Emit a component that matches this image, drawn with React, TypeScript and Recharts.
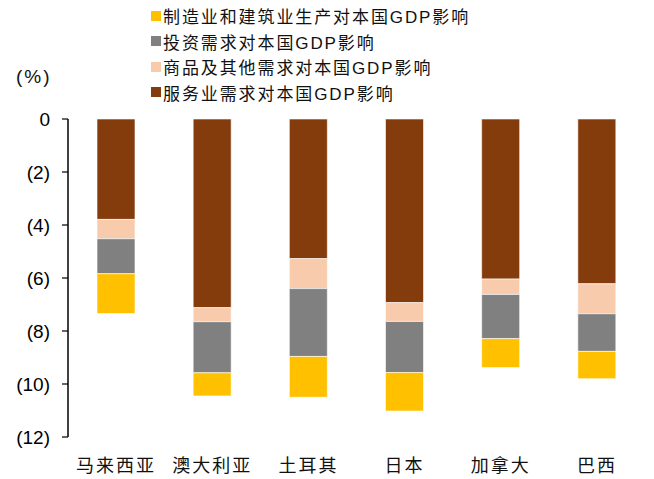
import React from 'react';
import { BarChart, Bar, XAxis, YAxis } from 'recharts';

// Countries on the category axis
const countries = ['马来西亚', '澳大利亚', '土耳其', '日本', '加拿大', '巴西'];

// Contribution to domestic GDP (percentage points, negative = drag)
const serviceDemand = [-3.79, -7.12, -5.27, -6.93, -6.04, -6.22];
const goodsOtherDemand = [-0.73, -0.53, -1.13, -0.71, -0.58, -1.13];
const investmentDemand = [-1.32, -1.93, -2.56, -1.93, -1.67, -1.42];
const manufacturingConstruction = [-1.5, -0.87, -1.54, -1.45, -1.09, -1.03];

const yTicks = [0, -2, -4, -6, -8, -10, -12];
const boundaryTicks = [1, 2, 3, 4, 5, 6];

const seriesNames = {
  manufacturing: '制造业和建筑业生产对本国GDP影响',
  investment: '投资需求对本国GDP影响',
  goods: '商品及其他需求对本国GDP影响',
  service: '服务业需求对本国GDP影响',
};

const colors = {
  manufacturing: '#FFC000',
  investment: '#808080',
  goods: '#F8CBAD',
  service: '#843C0C',
};

const legendOrder: Array<keyof typeof seriesNames> = ['manufacturing', 'investment', 'goods', 'service'];

const data = countries.map((name, i) => ({
  name,
  service: serviceDemand[i],
  goods: goodsOtherDemand[i],
  investment: investmentDemand[i],
  manufacturing: manufacturingConstruction[i],
}));

const W = 646;
const H = 471;
const cjkFont = '"Noto Sans CJK SC", "Noto Sans", sans-serif';
const numFont = '"Liberation Sans", Arial, sans-serif';
const mixedFont = '"Liberation Sans", "Noto Sans CJK SC", sans-serif';

const formatY = (v: number) => (v === 0 ? '0' : `(${Math.abs(v)})`);

export default function App() {
  return (
    <div style={{ position: 'relative', width: W, height: H }}>
      <BarChart
        width={W}
        height={H}
        data={data}
        barSize={38}
        margin={{ top: 111, right: 9, bottom: 12, left: 0 }}
      >
        <XAxis
          dataKey="name"
          axisLine={false}
          tickLine={false}
          tickSize={0}
          tickMargin={22}
          height={30}
          interval={0}
          tick={{ fill: '#111', fontSize: 18, fontFamily: cjkFont, letterSpacing: 2 }}
        />
        <XAxis
          xAxisId="top"
          type="number"
          orientation="top"
          mirror
          domain={[0, 6]}
          ticks={boundaryTicks}
          tickFormatter={() => ''}
          height={0}
          tickSize={6}
          axisLine={{ stroke: '#000', strokeWidth: 1.5 }}
          tickLine={{ stroke: '#000', strokeWidth: 1.2 }}
          allowDataOverflow
        />
        <YAxis
          domain={[-12, 0]}
          ticks={yTicks}
          tickFormatter={formatY}
          width={60}
          tickSize={6}
          tickMargin={12}
          axisLine={{ stroke: '#000', strokeWidth: 1.5 }}
          tickLine={{ stroke: '#000', strokeWidth: 1.2 }}
          tick={{ fill: '#000', fontSize: 19, fontFamily: numFont }}
        />
        <Bar dataKey="service" stackId="a" fill={colors.service} stroke="#ffffff" strokeWidth={0.6} isAnimationActive={false} />
        <Bar dataKey="goods" stackId="a" fill={colors.goods} stroke="#ffffff" strokeWidth={0.6} isAnimationActive={false} />
        <Bar dataKey="investment" stackId="a" fill={colors.investment} stroke="#ffffff" strokeWidth={0.6} isAnimationActive={false} />
        <Bar dataKey="manufacturing" stackId="a" fill={colors.manufacturing} stroke="#ffffff" strokeWidth={0.6} isAnimationActive={false} />
      </BarChart>

      <div
        style={{
          position: 'absolute',
          left: 8,
          top: 59,
          fontFamily: numFont,
          fontSize: 19,
          color: '#111',
          lineHeight: '20px',
          letterSpacing: 2,
        }}
      >
        (%)
      </div>

      <div style={{ position: 'absolute', left: 143, top: -5, fontFamily: mixedFont }}>
        {legendOrder.map((key) => (
          <div
            key={key}
            style={{ display: 'flex', alignItems: 'center', height: 25.5, fontSize: 17, color: '#111', letterSpacing: 1.9 }}
          >
            <span style={{ display: 'inline-block', width: 10, height: 10, background: colors[key], marginRight: 2 }} />
            <span>{seriesNames[key]}</span>
          </div>
        ))}
      </div>
    </div>
  );
}
